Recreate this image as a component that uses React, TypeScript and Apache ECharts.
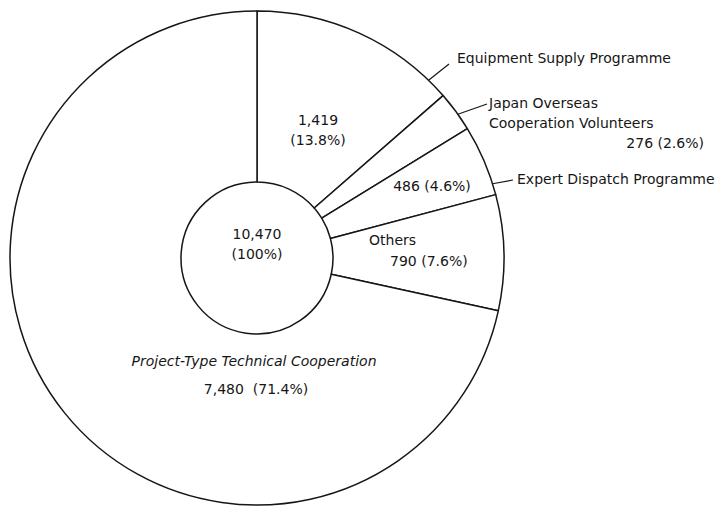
import React, { useEffect, useRef } from "react";
import * as echarts from "echarts";

// ---- data ----
const categories = [
  "Equipment Supply Programme",
  "Japan Overseas\nCooperation Volunteers",
  "Expert Dispatch Programme",
  "Others",
  "Project-Type Technical Cooperation",
];
const values = [1419, 276, 486, 790, 7480];
const percents = [13.8, 2.6, 4.6, 7.6, 71.4];
const total = 10470;
const totalPercent = 100;

// ---- layout (not data) ----
const CX = 257;
const CY = 258;
const R_IN = 76;
const R_OUT = 247;
const FONT = "DejaVu Sans";
const INK = "#161616";

const fmt = (n: number) => n.toLocaleString("en-US");

// value label layout per slice
const valueLayout = [
  { x: 318, y: 130, align: "center" },
  { x: 704, y: 143, align: "right" },
  { x: 432, y: 186, align: "center" },
  { x: 390, y: 261, align: "left" },
  { x: 256, y: 389, align: "center" },
];
const valueText = (i: number) => {
  if (i === 0) return `${fmt(values[i])}\n(${percents[i].toFixed(1)}%)`;
  if (i === 4) return `${fmt(values[i])}  (${percents[i].toFixed(1)}%)`;
  return `${fmt(values[i])} (${percents[i].toFixed(1)}%)`;
};
// name label layout per slice
const nameLayout = [
  { x: 457, y: 58, align: "left" },
  { x: 489, y: 113, align: "left" },
  { x: 517, y: 179, align: "left" },
  { x: 369, y: 240, align: "left" },
  { x: 254, y: 361, align: "center" },
];
// leader lines: angle (deg, clockwise from top) where they leave the rim, and end point
const leaders = [
  { angle: 44, end: [449, 64] },
  { angle: 54.4, end: [487, 104] },
  { angle: 72.5, end: [513, 180] },
];

export default function App() {
  const ref = useRef<HTMLDivElement>(null);
  useEffect(() => {
    if (!ref.current) return;
    const chart = echarts.init(ref.current, null, { renderer: "svg" });
    const textStyle = {
      fontFamily: FONT,
      fontSize: 14,
      color: INK,
      lineHeight: 20,
    };
    const leaderGraphics = leaders.map((l) => {
      const a = (l.angle * Math.PI) / 180;
      return {
        type: "line",
        silent: true,
        shape: {
          x1: CX + R_OUT * Math.sin(a),
          y1: CY - R_OUT * Math.cos(a),
          x2: l.end[0],
          y2: l.end[1],
        },
        style: { stroke: INK, lineWidth: 1.2 },
      };
    });
    chart.setOption({
      animation: false,
      backgroundColor: "#ffffff",
      graphic: [
        ...leaderGraphics,
        {
          type: "text",
          x: CX,
          y: 244,
          silent: true,
          style: {
            text: `${fmt(total)}\n(${totalPercent}%)`,
            fontFamily: FONT,
            fontSize: 14,
            fill: INK,
            align: "center",
            verticalAlign: "middle",
            lineHeight: 20,
          },
        },
      ],
      series: [
        {
          type: "pie",
          center: [CX, CY],
          radius: [R_IN, R_OUT],
          startAngle: 90,
          clockwise: true,
          silent: true,
          emphasis: { disabled: true },
          itemStyle: { color: "#ffffff", borderColor: INK, borderWidth: 1.5 },
          label: {
            show: true,
            position: "inside",
            formatter: (p: any) => valueText(p.dataIndex),
            ...textStyle,
          },
          labelLine: { show: false },
          labelLayout: (p: any) => ({
            x: valueLayout[p.dataIndex].x,
            y: valueLayout[p.dataIndex].y,
            align: valueLayout[p.dataIndex].align,
            verticalAlign: "middle",
          }),
          data: categories.map((c, i) => ({ name: c, value: values[i] })),
          z: 2,
        },
        {
          type: "pie",
          center: [CX, CY],
          radius: [R_IN, R_OUT],
          startAngle: 90,
          clockwise: true,
          silent: true,
          emphasis: { disabled: true },
          itemStyle: { color: "rgba(0,0,0,0)", borderWidth: 0 },
          label: {
            show: true,
            position: "inside",
            formatter: (p: any) => p.name,
            ...textStyle,
          },
          labelLine: { show: false },
          labelLayout: (p: any) => ({
            x: nameLayout[p.dataIndex].x,
            y: nameLayout[p.dataIndex].y,
            align: nameLayout[p.dataIndex].align,
            verticalAlign: "middle",
          }),
          data: categories.map((c, i) => ({
            name: c,
            value: values[i],
            label: i === 4 ? { fontStyle: "italic" } : undefined,
          })),
          z: 3,
        },
      ],
    });
    return () => chart.dispose();
  }, []);
  return (
    <div
      ref={ref}
      style={{ position: "absolute", left: 0, top: 0, width: 724, height: 510 }}
    />
  );
}
